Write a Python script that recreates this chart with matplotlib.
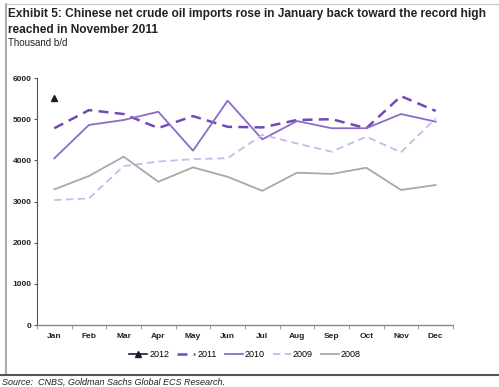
import matplotlib.pyplot as plt
from matplotlib.lines import Line2D

# data (thousand b/d)
months = ['Jan', 'Feb', 'Mar', 'Apr', 'May', 'Jun', 'Jul', 'Aug', 'Sep', 'Oct', 'Nov', 'Dec']
y2012 = [5520]
y2011 = [4780, 5220, 5125, 4785, 5075, 4815, 4800, 4980, 5000, 4780, 5560, 5200]
y2010 = [4050, 4860, 4980, 5180, 4235, 5450, 4510, 4955, 4780, 4780, 5125, 4940]
y2009 = [3035, 3075, 3860, 3970, 4030, 4050, 4620, 4410, 4210, 4575, 4195, 5020]
y2008 = [3295, 3620, 4090, 3480, 3830, 3600, 3260, 3700, 3670, 3820, 3280, 3400]

plt.rcParams['font.family'] = ['Liberation Sans', 'DejaVu Sans']

fig = plt.figure(figsize=(4.99, 3.87), dpi=100)
ax = fig.add_axes([0.0741, 0.1602, 0.8337, 0.6382])

x = list(range(len(months)))
ax.plot(x[:1], y2012, color='#1a1a2e', marker='^', markersize=5, lw=1.2, label='2012')
ax.plot(x, y2011, color='#7448b8', lw=1.8, ls=(0, (4, 2.5)), label='2011')
ax.plot(x, y2010, color='#8c6bc8', lw=1.3, label='2010')
ax.plot(x, y2009, color='#c9b9ea', lw=1.3, ls=(0, (4, 2.5)), label='2009')
ax.plot(x, y2008, color='#a8a8a8', lw=1.3, label='2008')

ax.set_xlim(-0.5, 11.5)
ax.set_ylim(0, 6000)
ax.set_yticks(range(0, 6001, 1000))
ax.set_yticklabels([str(v) for v in range(0, 6001, 1000)], fontsize=6, fontweight='bold', color='#222222')
ax.set_xticks(x)
ax.set_xticklabels(months, fontsize=6, fontweight='bold', color='#222222')
ax.set_xticks([i - 0.5 for i in range(13)], minor=True)
ax.tick_params(axis='x', which='major', length=0, pad=6)
ax.tick_params(axis='x', which='minor', length=3, color='#888888', direction='out')
ax.tick_params(axis='y', length=2.5, color='#555555', pad=1.5)

for side in ['top', 'right']:
    ax.spines[side].set_visible(False)
ax.spines['left'].set_color('#555555')
ax.spines['bottom'].set_color('#888888')
ax.spines['left'].set_linewidth(0.8)
ax.spines['bottom'].set_linewidth(1.0)

ax.legend(loc='upper center', bbox_to_anchor=(0.5, -0.07), ncol=5, frameon=False,
          fontsize=6.5, handlelength=2.0, handletextpad=0.2, columnspacing=0.9)

# title and notes
fig.text(0.016, 0.964, 'Exhibit 5: Chinese net crude oil imports rose in January back toward the record high',
         fontsize=8.6, fontweight='bold', color='#222222', va='center')
fig.text(0.016, 0.923, 'reached in November 2011', fontsize=8.6, fontweight='bold',
         color='#222222', va='center')
fig.text(0.016, 0.889, 'Thousand b/d', fontsize=7, color='#222222', va='center')
fig.text(0.005, 0.013, 'Source:  CNBS, Goldman Sachs Global ECS Research.', fontsize=6.5,
         style='italic', color='#222222', va='center')

# frame lines
fig.add_artist(Line2D([0.012, 0.012], [0.03, 0.99], color='#aaaaaa', lw=1.5))
fig.add_artist(Line2D([0.012, 1.0], [0.99, 0.99], color='#cccccc', lw=1.0))
fig.add_artist(Line2D([0.0, 1.0], [0.031, 0.031], color='#555555', lw=1.5))

fig.savefig('out.png', dpi=100)
